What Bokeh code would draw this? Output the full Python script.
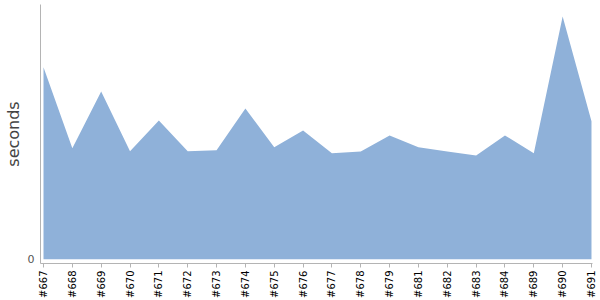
import math
from bokeh.plotting import figure
from bokeh.models import ColumnDataSource, FixedTicker, Range1d
from bokeh.embed import file_html
from bokeh.resources import INLINE

builds = ["#667", "#668", "#669", "#670", "#671", "#672", "#673", "#674", "#675", "#676",
          "#677", "#678", "#679", "#681", "#682", "#683", "#684", "#689", "#690", "#691"]
seconds = [192.0, 111.0, 167.7, 108.0, 138.7, 108.0, 109.0, 150.7, 112.0, 128.7,
           106.0, 107.7, 123.7, 112.0, 107.7, 103.7, 123.7, 106.0, 242.7, 138.0]

idx = list(range(len(builds)))
src = ColumnDataSource(dict(x=idx, y=seconds, base=[0] * len(idx)))

p = figure(width=600, height=300, output_backend="svg", toolbar_location=None,
           x_range=Range1d(-0.104, len(builds) - 1 + 0.035),
           y_range=Range1d(-4.3, 254.7),
           min_border_left=40, min_border_right=8, min_border_top=4, min_border_bottom=37)

p.varea(x="x", y1="base", y2="y", source=src, fill_color="#8FB1D9", fill_alpha=1.0)

p.outline_line_color = None
p.xgrid.visible = False
p.ygrid.visible = False
p.background_fill_color = "white"
p.border_fill_color = "white"

xa = p.xaxis[0]
xa.ticker = FixedTicker(ticks=idx)
xa.major_label_overrides = {i: b for i, b in enumerate(builds)}
xa.major_label_orientation = math.pi / 2
xa.major_label_text_font = "DejaVu Sans"
xa.major_label_text_font_size = "10px"
xa.major_label_text_color = "black"
xa.major_label_standoff = 3
xa.major_tick_in = 0
xa.major_tick_out = 4
xa.minor_tick_line_color = None
xa.axis_line_color = "#b4b4b4"
xa.major_tick_line_color = "#b4b4b4"

ya = p.yaxis[0]
ya.ticker = FixedTicker(ticks=[0])
ya.axis_label = "seconds"
ya.axis_label_text_font = "DejaVu Sans"
ya.axis_label_text_font_size = "16px"
ya.axis_label_text_font_style = "normal"
ya.axis_label_text_color = "#444444"
ya.axis_label_standoff = 2
ya.major_label_text_font = "DejaVu Sans"
ya.major_label_text_font_size = "11px"
ya.major_label_text_color = "#555555"
ya.major_label_standoff = 6
ya.major_tick_in = 0
ya.major_tick_out = 0
ya.minor_tick_line_color = None
ya.axis_line_color = "#b4b4b4"

open("out.html", "w").write(file_html(p, INLINE))
